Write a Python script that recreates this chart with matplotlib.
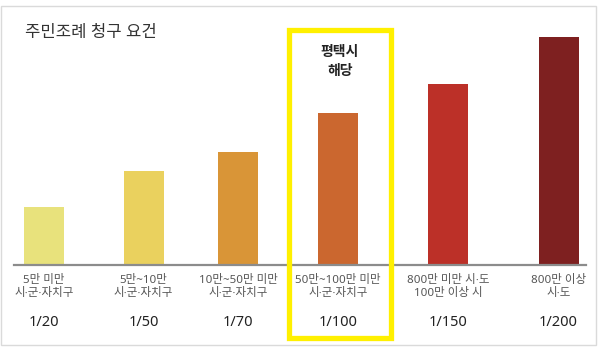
import matplotlib
matplotlib.use("Agg")
import matplotlib.pyplot as plt
from matplotlib.patches import Rectangle

plt.rcParams['font.family'] = ['Noto Sans', 'Noto Sans CJK KR', 'DejaVu Sans']

# 데이터
categories = ['5만 미만\n시·군·자치구', '5만~10만\n시·군·자치구', '10만~50만 미만\n시·군·자치구',
              '50만~100만 미만\n시·군·자치구', '800만 미만 시·도\n100만 이상 시', '800만 이상\n시·도']
ratios = ['1/20', '1/50', '1/70', '1/100', '1/150', '1/200']
heights = [58, 94, 113, 152, 181, 228]
colors = ['#E8E27C', '#EAD15E', '#D99537', '#CB672F', '#BC3028', '#7E2020']

W, H = 600, 353
xpos = [44, 143.5, 238, 338, 448, 558.5]  # 막대 중심 (px)

fig = plt.figure(figsize=(W / 100, H / 100), dpi=100)
fig.patch.set_facecolor('white')

# 바깥 테두리
fig.add_artist(Rectangle((1 / W, 1 - 345 / H), 595 / W, 339 / H, transform=fig.transFigure,
                         fill=False, edgecolor='#DADADA', lw=1))

ax = fig.add_axes([14 / W, 1 - 265 / H, 572 / W, 245 / H])
ax.bar(xpos, heights, width=40, color=colors)
ax.set_xlim(14, 586)
ax.set_ylim(0, 245)
for s in ['top', 'right', 'left']:
    ax.spines[s].set_visible(False)
ax.spines['bottom'].set_color('#8C8C8C')
ax.spines['bottom'].set_linewidth(1.6)
ax.set_xticks([])
ax.set_yticks([])
ax.patch.set_alpha(0)

for x, c, r in zip(xpos, categories, ratios):
    ax.text(x, -10, c, ha='center', va='top', fontsize=8.3, color='#555555',
            linespacing=1.3, clip_on=False)
    ax.text(x, -58, r, ha='center', va='center', fontsize=10.5, color='#222222',
            fontweight='semibold', clip_on=False)

fig.text(25 / W, 1 - 33 / H, '주민조례 청구 요건', ha='left', va='center', fontsize=12, color='#333333')
fig.text(340 / W, 1 - 62 / H, '평택시\n해당', ha='center', va='center', fontsize=10,
         fontweight='bold', color='#222222', linespacing=1.3)

# 평택시 강조 박스
fig.add_artist(Rectangle((289 / W, 1 - 338 / H), 102 / W, 308 / H, transform=fig.transFigure,
                         fill=False, edgecolor='#FFF000', lw=3.8))

fig.savefig('out.png', dpi=100)
